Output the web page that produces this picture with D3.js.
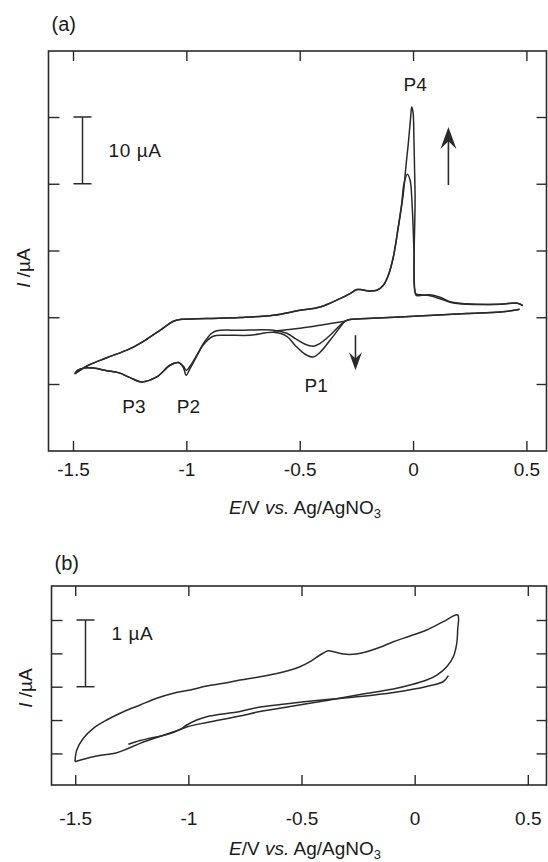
<!DOCTYPE html>
<html>
<head>
<meta charset="utf-8">
<script src="https://cdn.jsdelivr.net/npm/d3@7"></script>
<style>
  body { margin: 0; background: #fff; }
  text { font-family: "Liberation Sans", Arial, sans-serif; fill: #1a1a1a; }
</style>
</head>
<body>
<div id="container"></div>
<script>
/* CONSTANTS AND GLOBALS */
const width = 548,
  height = 862

const potentialTicks = [-1.5, -1, -0.5, 0, 0.5]
const potentialLabels = ["-1.5", "-1", "-0.5", "0", "0.5"]
const currentTicksA = [-10, 0, 10, 20, 30]
const currentTicksB = [-1, -0.5, 0, 0.5, 1]

/* PANEL (a) DATA  [E / V, I / uA] */
// anodic sweep from -1.5 V, same for both cycles up to the foot of P4
const anodicA = [[-1.491,-8.43],[-1.432,-7.19],[-1.351,-6.07],[-1.248,-4.69],[-1.182,-3.45],[-1.116,-1.95],
  [-1.057,-0.60],[-1.028,-0.34],[-0.910,-0.19],[-0.763,-0.04],[-0.616,0.30],[-0.498,1.05],[-0.410,1.54],
  [-0.322,2.80],[-0.278,3.55],[-0.248,4.15],[-0.226,4.12],[-0.197,3.94],[-0.160,4.04],[-0.131,4.79],
  [-0.109,6.29],[-0.087,9.03],[-0.065,13.53]]
// P4 and the rest up to 0.5 V
const peakCycle1 = [[-0.050,17.03],[-0.040,20.03],[-0.025,21.42],[-0.013,20.52],[-0.004,16.78],[0.004,10.04],
  [0.011,3.55],[0.023,3.40],[0.075,3.22],[0.119,2.77],[0.163,2.25],[0.237,1.95],[0.384,1.95],[0.460,2.10],[0.484,1.75]]
const peakCycle2 = [[-0.043,18.53],[-0.031,22.77],[-0.021,26.02],[-0.011,29.81],[-0.006,31.5],[0.0,30.7],
  [0.004,26.5],[0.009,18.5],[0.013,3.30],[0.023,3.22],[0.075,3.37],[0.119,3.0],[0.163,2.32],[0.237,2.02],
  [0.384,1.95],[0.460,2.10],[0.484,1.75]]
// cathodic sweep back from 0.5 V
const cathodicA = [[0.470,1.20],[0.440,1.0],[0.384,0.79],[0.237,0.55],[0.090,0.30],[-0.057,0.04],
  [-0.204,-0.19],[-0.278,-0.34],[-0.300,-0.60]]
const dipCycle1 = [[-0.322,-1.20],[-0.366,-2.70],[-0.410,-3.90],[-0.440,-4.34],[-0.476,-4.04],[-0.521,-3.15],
  [-0.557,-2.40],[-0.616,-1.95],[-0.763,-1.95],[-0.866,-2.02],[-0.888,-2.40],
  [-0.925,-3.94],[-0.954,-5.69],[-0.984,-7.34],[-1.0,-7.94],[-1.013,-7.35],[-1.035,-6.79]]
const dipCycle2 = [[-0.322,-1.50],[-0.366,-3.45],[-0.410,-5.24],[-0.440,-5.95],[-0.476,-5.54],[-0.521,-4.19],
  [-0.557,-2.85],[-0.616,-2.25],[-0.719,-2.70],[-0.829,-2.70],[-0.882,-2.85],
  [-0.925,-4.12],[-0.954,-5.84],[-0.984,-7.69],[-1.001,-8.69],[-1.013,-7.55],[-1.035,-6.79]]
const p3Branch = [[-1.072,-7.19],[-1.131,-8.94],[-1.197,-9.69],[-1.248,-9.05],[-1.300,-8.30],[-1.351,-8.0],
  [-1.410,-7.62],[-1.455,-7.62],[-1.480,-7.95],[-1.491,-8.43]]
// first sweep, no P1
const startSweep = [[-0.300,-0.60],[-0.410,-1.20],[-0.498,-1.65],[-0.616,-2.10]]

const peakLabels = ["P1", "P2", "P3", "P4"]
const peakLabelPos = [[-0.427,-10.2],[-0.991,-13.3],[-1.231,-13.3],[0.009,34.9]]

/* PANEL (b) DATA */
const anodicB = [[-1.501,-1.124],[-1.493,-0.949],[-1.464,-0.774],[-1.420,-0.624],[-1.361,-0.499],[-1.287,-0.375],
  [-1.213,-0.274],[-1.140,-0.174],[-1.066,-0.099],[-0.992,-0.049],[-0.919,0.010],[-0.845,0.051],[-0.772,0.100],
  [-0.683,0.150],[-0.595,0.210],[-0.507,0.300],[-0.462,0.375],[-0.418,0.475],[-0.381,0.540],[-0.359,0.525],
  [-0.315,0.490],[-0.271,0.486],[-0.212,0.525],[-0.153,0.591],[-0.094,0.675],[-0.020,0.760],[0.053,0.850],
  [0.127,0.975],[0.190,1.075]]
const cathodicB = [[0.190,0.850],[0.186,0.651],[0.171,0.450],[0.142,0.300],[0.098,0.175],[0.053,0.100],
  [-0.020,0.025],[-0.094,-0.034],[-0.241,-0.117],[-0.388,-0.207],[-0.536,-0.289],[-0.683,-0.372],
  [-0.772,-0.440],[-0.919,-0.536],[-1.007,-0.604],[-1.066,-0.679],[-1.140,-0.762],[-1.213,-0.849],
  [-1.272,-0.934],[-1.316,-0.990],[-1.420,-1.049],[-1.501,-1.124]]
const secondB = [[-1.265,-0.864],[-1.213,-0.807],[-1.169,-0.774],[-1.095,-0.717],[-1.037,-0.642],[-1.007,-0.574],
  [-0.963,-0.499],[-0.919,-0.450],[-0.772,-0.372],[-0.683,-0.304],[-0.536,-0.244],[-0.388,-0.192],
  [-0.241,-0.147],[-0.094,-0.087],[0.053,0.003],[0.127,0.078],[0.149,0.165]]

// APPEND SVG
const svg = d3.select("#container")
  .append("svg")
  .attr("width", width)
  .attr("height", height)
  .style("background", "#fff")

const ink = "#2a2a2a"

function drawPanel(cfg) {
  const g = svg.append("g")
  const { x, y, box } = cfg

  // frame
  g.append("rect")
    .attr("x", box.left).attr("y", box.top)
    .attr("width", box.right - box.left).attr("height", box.bottom - box.top)
    .attr("fill", "none").attr("stroke", ink).attr("stroke-width", 1.6)

  const clean = s => s.select(".domain").remove()

  g.append("g")
    .attr("transform", `translate(0,${box.bottom})`)
    .call(d3.axisBottom(x).tickValues(potentialTicks).tickSize(-10).tickPadding(cfg.labelPad)
      .tickFormat((d, i) => potentialLabels[i]))
    .call(clean)
    .call(s => s.selectAll("text").attr("font-size", 19).attr("font-family", null).attr("fill", "#1a1a1a"))
    .call(s => s.selectAll("line").attr("stroke", ink).attr("stroke-width", 1.4))

  g.append("g")
    .attr("transform", `translate(0,${box.top})`)
    .call(d3.axisTop(x).tickValues(potentialTicks).tickSize(-10).tickFormat(""))
    .call(clean)
    .call(s => s.selectAll("line").attr("stroke", ink).attr("stroke-width", 1.4))

  g.append("g")
    .attr("transform", `translate(${box.left},0)`)
    .call(d3.axisLeft(y).tickValues(cfg.yTicks).tickSize(-11).tickFormat(""))
    .call(clean)
    .call(s => s.selectAll("line").attr("stroke", ink).attr("stroke-width", 1.4))

  g.append("g")
    .attr("transform", `translate(${box.right},0)`)
    .call(d3.axisRight(y).tickValues(cfg.yTicks).tickSize(-10).tickFormat(""))
    .call(clean)
    .call(s => s.selectAll("line").attr("stroke", ink).attr("stroke-width", 1.4))

  const lineGen = d3.line()
    .x(d => x(d[0]))
    .y(d => y(d[1]))
    .curve(d3.curveCatmullRom.alpha(0.5))

  g.selectAll(".cv")
    .data(cfg.curves)
    .join("path")
    .attr("class", "cv")
    .attr("d", lineGen)
    .attr("fill", "none")
    .attr("stroke", ink)
    .attr("stroke-width", 1.5)
    .attr("stroke-linejoin", "round")

  // panel letter
  svg.append("text")
    .attr("x", box.left + 3).attr("y", cfg.letterY)
    .attr("font-size", 20)
    .text(cfg.letter)

  // x title
  const title = svg.append("text")
    .attr("x", 305).attr("y", cfg.titleY)
    .attr("text-anchor", "middle")
    .attr("font-size", 19)
  title.append("tspan").attr("font-style", "italic").text("E")
  title.append("tspan").text("/V ")
  title.append("tspan").attr("font-style", "italic").text("vs.")
  title.append("tspan").text(" Ag/AgNO")
  title.append("tspan").attr("font-size", 13).attr("dy", 4).text("3")

  // y title
  const ylab = svg.append("text")
    .attr("transform", `translate(${cfg.yLabX},${cfg.yLabY}) rotate(-90)`)
    .attr("text-anchor", "middle")
    .attr("font-size", 19)
  ylab.append("tspan").attr("font-style", "italic").text("I")
  ylab.append("tspan").text(" /µA")

  // scale bar
  const sb = cfg.scaleBar
  const sx = box.left + 34
  g.append("line").attr("x1", sx).attr("x2", sx)
    .attr("y1", y(sb[0])).attr("y2", y(sb[1]))
    .attr("stroke", ink).attr("stroke-width", 1.5)
  g.selectAll(".cap")
    .data(sb)
    .join("line")
    .attr("x1", sx - 9).attr("x2", sx + 9)
    .attr("y1", d => y(d)).attr("y2", d => y(d))
    .attr("stroke", ink).attr("stroke-width", 1.5)
  g.append("text")
    .attr("x", sx + 26)
    .attr("y", (y(sb[0]) + y(sb[1])) / 2 - cfg.sbTextShift)
    .attr("dy", "0.35em")
    .attr("font-size", 19)
    .attr("letter-spacing", 0.6)
    .text(cfg.scaleText)

  return g
}

/* PANEL (a) */
const xA = d3.scaleLinear().domain([-1.5, 0.5]).range([73, 526.4])
const yA = d3.scaleLinear().domain([-10, 30]).range([384, 117])

const gA = drawPanel({
  x: xA, y: yA,
  box: { left: 48.5, right: 546.5, top: 51, bottom: 451 },
  yTicks: currentTicksA,
  labelPad: 12,
  curves: [
    [...cathodicA, ...dipCycle1, ...p3Branch, ...anodicA, ...peakCycle1],
    [...cathodicA, ...dipCycle2, ...p3Branch, ...anodicA, ...peakCycle2],
    startSweep
  ],
  letter: "(a)", letterY: 31,
  titleY: 514,
  yLabX: 30, yLabY: 268,
  scaleBar: [30, 20], scaleText: "10 µA", sbTextShift: 0
})

gA.selectAll(".peak")
  .data(peakLabels)
  .join("text")
  .attr("class", "peak")
  .attr("x", (d, i) => xA(peakLabelPos[i][0]))
  .attr("y", (d, i) => yA(peakLabelPos[i][1]))
  .attr("dy", "0.35em")
  .attr("text-anchor", "middle")
  .attr("font-size", 19)
  .text(d => d)

// sweep arrows
function arrow(g, x, yFrom, yTip, len, half) {
  const dir = yTip < yFrom ? 1 : -1
  g.append("line")
    .attr("x1", x).attr("x2", x)
    .attr("y1", yFrom).attr("y2", yTip + dir * len * 0.6)
    .attr("stroke", ink).attr("stroke-width", 1.6)
  g.append("path")
    .attr("d", `M${x},${yTip} L${x - half},${yTip + dir * len} L${x},${yTip + dir * len * 0.65} L${x + half},${yTip + dir * len} Z`)
    .attr("fill", ink)
}
arrow(gA, xA(0.156), yA(19.8), yA(28.5), 22, 8)
arrow(gA, xA(-0.254), yA(-2.7), yA(-7.94), 18, 6.5)

/* PANEL (b) */
const xB = d3.scaleLinear().domain([-1.5, 0.5]).range([75.2, 527.8])
const yB = d3.scaleLinear().domain([-1, 1]).range([753.4, 620])

drawPanel({
  x: xB, y: yB,
  box: { left: 51.5, right: 546.5, top: 586, bottom: 785 },
  yTicks: currentTicksB,
  labelPad: 27,
  curves: [[...anodicB, ...cathodicB], secondB],
  letter: "(b)", letterY: 570,
  titleY: 855,
  yLabX: 32, yLabY: 688,
  scaleBar: [1, 0], scaleText: "1 µA", sbTextShift: 20
})
</script>
</body>
</html>
